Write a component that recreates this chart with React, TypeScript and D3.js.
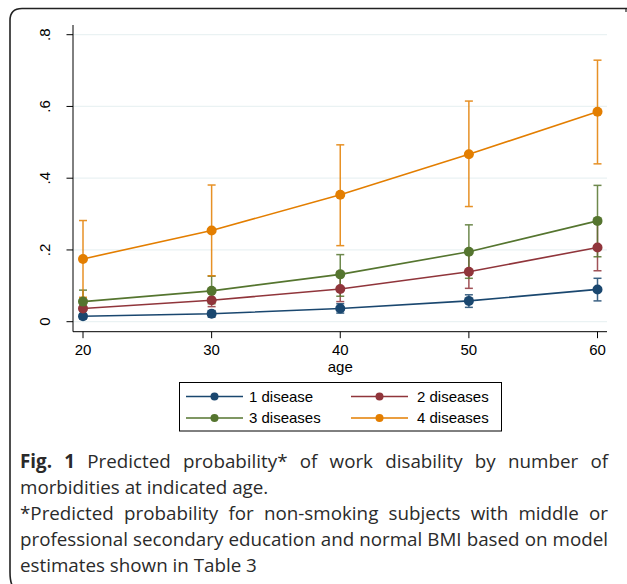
import React, { useEffect, useRef } from "react";
import * as d3 from "d3";

const ages = [20, 30, 40, 50, 60];
const seriesNames = ["1 disease", "2 diseases", "3 diseases", "4 diseases"];
const seriesColors = ["#1a476f", "#90353b", "#55752f", "#e37e00"];

const p1 = [0.015, 0.022, 0.037, 0.058, 0.090];
const lo1 = [0.008, 0.013, 0.024, 0.040, 0.058];
const hi1 = [0.022, 0.031, 0.050, 0.075, 0.121];

const p2 = [0.037, 0.060, 0.091, 0.139, 0.207];
const lo2 = [0.020, 0.042, 0.056, 0.093, 0.142];
const hi2 = [0.062, 0.085, 0.140, 0.190, 0.275];

const p3 = [0.056, 0.086, 0.132, 0.195, 0.281];
const lo3 = [0.030, 0.050, 0.071, 0.121, 0.181];
const hi3 = [0.088, 0.127, 0.187, 0.270, 0.380];

const p4 = [0.175, 0.254, 0.354, 0.467, 0.585];
const lo4 = [0.068, 0.128, 0.212, 0.321, 0.440];
const hi4 = [0.282, 0.381, 0.493, 0.615, 0.729];

const yTicks = [0, 0.2, 0.4, 0.6, 0.8];
const yTickLabels = ["0", ".2", ".4", ".6", ".8"];
const xTicks = [20, 30, 40, 50, 60];

const captionLines = [
  { bold: "Fig. 1", text: " Predicted probability* of work disability by number of", justify: true },
  { bold: "", text: "morbidities at indicated age.", justify: false },
  { bold: "", text: "*Predicted probability for non-smoking subjects with middle or", justify: true },
  { bold: "", text: "professional secondary education and normal BMI based on model", justify: true },
  { bold: "", text: "estimates shown in Table 3", justify: false },
];

const series = [
  { name: seriesNames[0], color: seriesColors[0], p: p1, lo: lo1, hi: hi1 },
  { name: seriesNames[1], color: seriesColors[1], p: p2, lo: lo2, hi: hi2 },
  { name: seriesNames[2], color: seriesColors[2], p: p3, lo: lo3, hi: hi3 },
  { name: seriesNames[3], color: seriesColors[3], p: p4, lo: lo4, hi: hi4 },
];

export default function App() {
  const captionRef = useRef<SVGGElement | null>(null);
  const W = 627, H = 584;
  const x = d3.scaleLinear().domain([20, 60]).range([83, 597.5]);
  const y = d3.scaleLinear().domain([0, 0.8]).range([321.7, 34.7]);
  const plotLeft = 73, plotRight = 607, axisY = 331.7, axisTop = 25;
  const line = d3.line<number>().x((_, i) => x(ages[i])).y((d) => y(d));
  const font = "'Liberation Sans', Arial, Helvetica, sans-serif";
  const capFont = "'Open Sans', 'Noto Sans', sans-serif";
  const capX = 20, capRight = 608, capSize = 18.8;
  const capBase = [467.5, 493.5, 519.5, 545.5, 571.5];

  useEffect(() => {
    const g = captionRef.current;
    if (!g) return;
    const texts = g.querySelectorAll("text");
    texts.forEach((t, i) => {
      if (!captionLines[i].justify) return;
      t.setAttribute("word-spacing", "0");
      const len = (t as SVGTextElement).getComputedTextLength();
      const full = captionLines[i].bold + captionLines[i].text;
      const spaces = (full.match(/ /g) || []).length;
      const extra = Math.max(0, (capRight - capX - len) / spaces);
      t.setAttribute("word-spacing", String(extra));
    });
  }, []);

  const legendItems = [
    { s: series[0], lx: 186, tx: 249, ty: 396.5 },
    { s: series[1], lx: 351, tx: 417, ty: 396.5 },
    { s: series[2], lx: 186, tx: 249, ty: 418 },
    { s: series[3], lx: 351, tx: 417, ty: 418 },
  ];

  return (
    <svg width={W} height={H} style={{ position: "absolute", left: 0, top: 0, background: "#fff" }}>
      <rect x={0} y={0} width={W} height={H} fill="#fff" />
      {/* frame */}
      <path d={`M ${W} 8.5 L 22 8.5 Q 10 8.5 10 20.5 L 10 572 Q 10 584 14 588`} fill="none" stroke="#222" strokeWidth={1.6} />
      <line x1={626} y1={8.5} x2={626} y2={12} stroke="#222" strokeWidth={1.2} />
      {/* gridlines */}
      {yTicks.map((t) => (
        <line key={"g" + t} x1={plotLeft} x2={plotRight} y1={y(t)} y2={y(t)} stroke="#eaf2f3" strokeWidth={1.2} />
      ))}
      {/* axes */}
      <line x1={plotLeft} x2={plotLeft} y1={axisTop} y2={axisY} stroke="#000" strokeWidth={1} />
      <line x1={plotLeft} x2={plotRight} y1={axisY} y2={axisY} stroke="#000" strokeWidth={1} />
      {yTicks.map((t, i) => (
        <g key={"yt" + t}>
          <line x1={plotLeft - 6.5} x2={plotLeft} y1={y(t)} y2={y(t)} stroke="#000" strokeWidth={1} />
          <text
            transform={`translate(49.5, ${y(t)}) rotate(-90)`}
            textAnchor="middle"
            fontFamily={font}
            fontSize={15}
            fill="#000"
          >
            {yTickLabels[i]}
          </text>
        </g>
      ))}
      {xTicks.map((t) => (
        <g key={"xt" + t}>
          <line x1={x(t)} x2={x(t)} y1={axisY} y2={axisY + 6.5} stroke="#000" strokeWidth={1} />
          <text x={x(t)} y={355} textAnchor="middle" fontFamily={font} fontSize={15} fill="#000">
            {t}
          </text>
        </g>
      ))}
      <text x={x(40)} y={371.5} textAnchor="middle" fontFamily={font} fontSize={15} fill="#000">
        age
      </text>
      {/* error bars */}
      {series.map((s) => (
        <g key={"ci" + s.name} stroke={s.color} strokeWidth={1.5} opacity={0.85}>
          {ages.map((a, i) => (
            <g key={a}>
              <line x1={x(a)} x2={x(a)} y1={y(s.lo[i])} y2={y(s.hi[i])} />
              <line x1={x(a) - 4} x2={x(a) + 4} y1={y(s.lo[i])} y2={y(s.lo[i])} />
              <line x1={x(a) - 4} x2={x(a) + 4} y1={y(s.hi[i])} y2={y(s.hi[i])} />
            </g>
          ))}
        </g>
      ))}
      {/* lines and points */}
      {series.map((s) => (
        <g key={"ln" + s.name}>
          <path d={line(s.p) || ""} fill="none" stroke={s.color} strokeWidth={1.6} />
          {ages.map((a, i) => (
            <circle key={a} cx={x(a)} cy={y(s.p[i])} r={5} fill={s.color} />
          ))}
        </g>
      ))}
      {/* legend */}
      <rect x={179.5} y={382.5} width={322} height={48.5} fill="#fff" stroke="#000" strokeWidth={1} />
      {legendItems.map((it) => (
        <g key={"lg" + it.s.name}>
          <line x1={it.lx} x2={it.lx + 57} y1={it.ty} y2={it.ty} stroke={it.s.color} strokeWidth={1.6} />
          <circle cx={it.lx + 28.5} cy={it.ty} r={4} fill={it.s.color} />
          <text x={it.tx} y={it.ty + 5.2} fontFamily={font} fontSize={15} fill="#000">
            {it.s.name}
          </text>
        </g>
      ))}
      {/* caption */}
      <g ref={captionRef}>
        {captionLines.map((l, i) => (
          <text key={i} x={capX} y={capBase[i]} fontFamily={capFont} fontSize={capSize} fill="#2a2a2a" style={{ whiteSpace: "pre" }}>
            {l.bold ? <tspan fontWeight="bold">{l.bold}</tspan> : null}
            {l.text}
          </text>
        ))}
      </g>
    </svg>
  );
}
